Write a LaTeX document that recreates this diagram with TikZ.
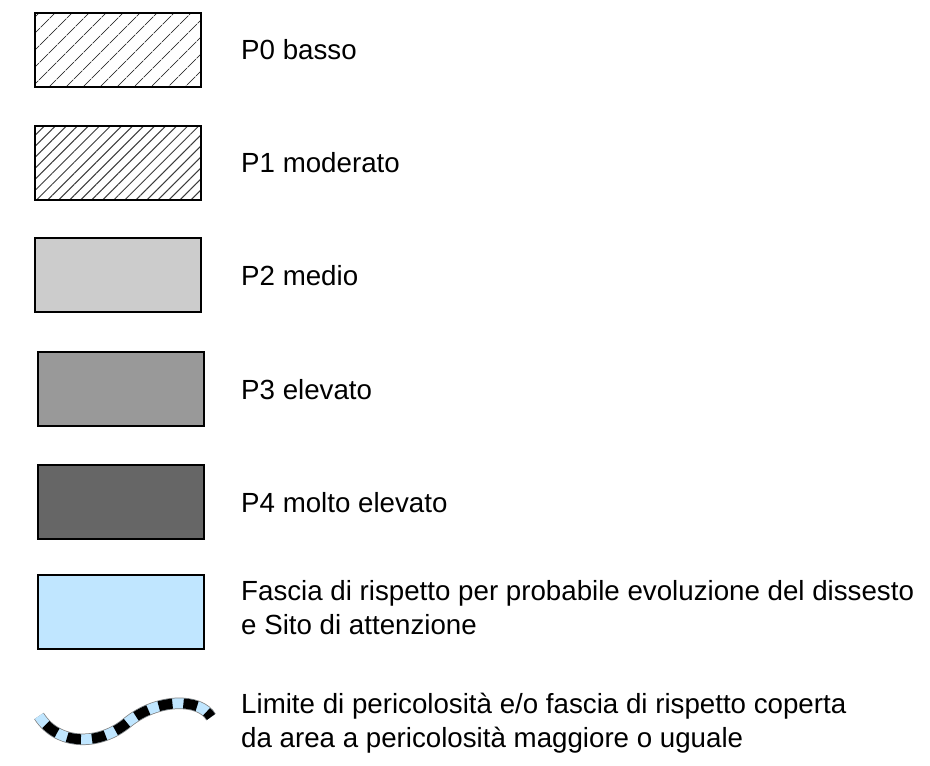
\documentclass[tikz,border=0pt]{standalone}
\usepackage{fontspec}
\setmainfont{Liberation Sans}
\usetikzlibrary{patterns.meta}

\definecolor{waveblue}{RGB}{192,230,255}
\definecolor{hatchgray}{RGB}{60,60,60}

\tikzstyle{legbox}=[rectangle,draw,line width=2pt,minimum width=166pt,minimum height=74pt,inner sep=0pt]
\tikzstyle{legtext}=[anchor=west,align=left,inner sep=0pt,font=\fontsize{27.7}{34}\selectfont]
\tikzstyle{wave}=[line width=10pt,draw=waveblue,preaction={draw=gray,line width=11.5pt},postaction={draw=black,dash pattern=on 14pt off 11pt,dash phase=14pt}]

\begin{document}
\begin{tikzpicture}[x=1pt, y=-1pt]
		\useasboundingbox (0,0) rectangle (930,766);
		\node [legbox, pattern={Lines[angle=45,distance=13pt,line width=1pt]}, pattern color=hatchgray] (p0) at (117.5, 50) {};
		\node [legbox, pattern={Lines[angle=45,distance=7.8pt,line width=1pt]}, pattern color=hatchgray]  (p1) at (117.5,163) {};
		\node [legbox, fill={rgb,255:red,204;green,204;blue,204}] (p2) at (117.5,275) {};
		\node [legbox, fill={rgb,255:red,153;green,153;blue,153}] (p3) at (121,  389) {};
		\node [legbox, fill={rgb,255:red,102;green,102;blue,102}] (p4) at (121,  502) {};
		\node [legbox, fill=waveblue]                             (fascia) at (120.5,612) {};
		\coordinate (w0) at (39, 716);
		\coordinate (w1) at (211,717);
		
		\node [legtext] (t0)      at (241, 50)  {P0 basso};
		\node [legtext] (t1)      at (241,163)  {P1 moderato};
		\node [legtext] (t2)      at (241,276)  {P2 medio};
		\node [legtext] (t3)      at (241,390)  {P3 elevato};
		\node [legtext] (t4)      at (241,503)  {P4 molto elevato};
		\node [legtext] (tfascia) at (241,608)  {Fascia di rispetto per probabile evoluzione del dissesto\\e Sito di attenzione};
		\node [legtext] (tlimite) at (241,723)  {Limite di pericolosità e/o fascia di rispetto coperta\\da area a pericolosità maggiore o uguale};
		
		
		\draw [wave] (w0) .. controls (58,746) and (100,746) .. (128,722) .. controls (158,698) and (200,698) .. (w1);
	\end{tikzpicture}
\end{document}
